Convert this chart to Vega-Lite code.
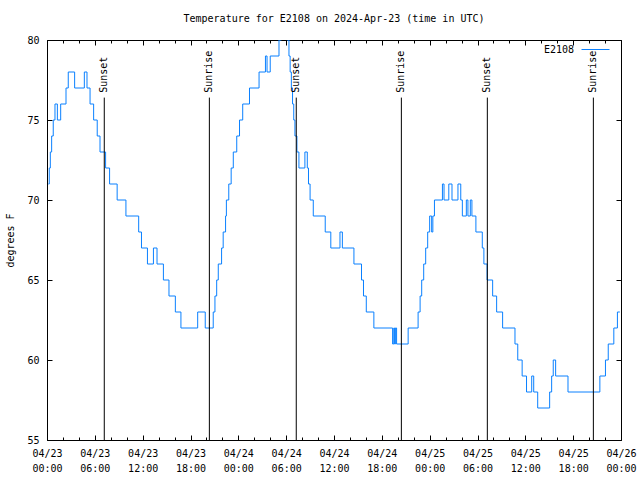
{
  "$schema": "https://vega.github.io/schema/vega-lite/v6.json",
  "width": 574,
  "height": 400,
  "autosize": "none",
  "padding": {"left": 47, "top": 40, "right": 19, "bottom": 40},
  "background": "white",
  "title": {"text": "Temperature for E2108 on 2024-Apr-23 (time in UTC)", "font": "DejaVu Sans Mono", "fontSize": 10, "fontWeight": "normal", "color": "black", "anchor": "middle", "offset": 11},
  "config": {
    "view": {"stroke": "black", "strokeWidth": 1},
    "font": "DejaVu Sans Mono",
    "axis": {"domain": false, "grid": false, "labelFont": "DejaVu Sans Mono", "labelFontSize": 10, "labelColor": "black", "tickColor": "black", "tickWidth": 1, "titleFont": "DejaVu Sans Mono", "titleFontSize": 10, "titleFontWeight": "normal", "titleColor": "black"}
  },
  "datasets": {
    "temps": [
      {"t": "2024-04-23T00:10:00Z", "v": 71, "s": "E2108"},
      {"t": "2024-04-23T00:17:00Z", "v": 72, "s": "E2108"},
      {"t": "2024-04-23T00:25:00Z", "v": 73, "s": "E2108"},
      {"t": "2024-04-23T00:35:00Z", "v": 74, "s": "E2108"},
      {"t": "2024-04-23T00:47:00Z", "v": 75, "s": "E2108"},
      {"t": "2024-04-23T01:00:00Z", "v": 76, "s": "E2108"},
      {"t": "2024-04-23T01:18:00Z", "v": 75, "s": "E2108"},
      {"t": "2024-04-23T01:43:00Z", "v": 76, "s": "E2108"},
      {"t": "2024-04-23T02:23:00Z", "v": 77, "s": "E2108"},
      {"t": "2024-04-23T02:40:00Z", "v": 78, "s": "E2108"},
      {"t": "2024-04-23T03:28:00Z", "v": 77, "s": "E2108"},
      {"t": "2024-04-23T04:41:00Z", "v": 78, "s": "E2108"},
      {"t": "2024-04-23T05:01:00Z", "v": 77, "s": "E2108"},
      {"t": "2024-04-23T05:24:00Z", "v": 76, "s": "E2108"},
      {"t": "2024-04-23T05:51:00Z", "v": 75, "s": "E2108"},
      {"t": "2024-04-23T06:18:00Z", "v": 74, "s": "E2108"},
      {"t": "2024-04-23T06:39:00Z", "v": 73, "s": "E2108"},
      {"t": "2024-04-23T07:21:00Z", "v": 72, "s": "E2108"},
      {"t": "2024-04-23T07:51:00Z", "v": 71, "s": "E2108"},
      {"t": "2024-04-23T08:48:00Z", "v": 70, "s": "E2108"},
      {"t": "2024-04-23T09:54:00Z", "v": 69, "s": "E2108"},
      {"t": "2024-04-23T11:30:00Z", "v": 68, "s": "E2108"},
      {"t": "2024-04-23T11:51:00Z", "v": 67, "s": "E2108"},
      {"t": "2024-04-23T12:36:00Z", "v": 66, "s": "E2108"},
      {"t": "2024-04-23T13:21:00Z", "v": 67, "s": "E2108"},
      {"t": "2024-04-23T13:48:00Z", "v": 66, "s": "E2108"},
      {"t": "2024-04-23T14:36:00Z", "v": 65, "s": "E2108"},
      {"t": "2024-04-23T15:18:00Z", "v": 64, "s": "E2108"},
      {"t": "2024-04-23T16:06:00Z", "v": 63, "s": "E2108"},
      {"t": "2024-04-23T16:48:00Z", "v": 62, "s": "E2108"},
      {"t": "2024-04-23T18:54:00Z", "v": 63, "s": "E2108"},
      {"t": "2024-04-23T19:51:00Z", "v": 62, "s": "E2108"},
      {"t": "2024-04-23T20:51:00Z", "v": 63, "s": "E2108"},
      {"t": "2024-04-23T21:04:00Z", "v": 64, "s": "E2108"},
      {"t": "2024-04-23T21:17:00Z", "v": 65, "s": "E2108"},
      {"t": "2024-04-23T21:29:00Z", "v": 66, "s": "E2108"},
      {"t": "2024-04-23T21:54:00Z", "v": 67, "s": "E2108"},
      {"t": "2024-04-23T22:06:00Z", "v": 68, "s": "E2108"},
      {"t": "2024-04-23T22:24:00Z", "v": 69, "s": "E2108"},
      {"t": "2024-04-23T22:30:00Z", "v": 70, "s": "E2108"},
      {"t": "2024-04-23T22:48:00Z", "v": 71, "s": "E2108"},
      {"t": "2024-04-23T23:06:00Z", "v": 72, "s": "E2108"},
      {"t": "2024-04-23T23:22:00Z", "v": 73, "s": "E2108"},
      {"t": "2024-04-23T23:48:00Z", "v": 74, "s": "E2108"},
      {"t": "2024-04-24T00:09:00Z", "v": 75, "s": "E2108"},
      {"t": "2024-04-24T00:33:00Z", "v": 76, "s": "E2108"},
      {"t": "2024-04-24T01:24:00Z", "v": 77, "s": "E2108"},
      {"t": "2024-04-24T02:36:00Z", "v": 78, "s": "E2108"},
      {"t": "2024-04-24T03:24:00Z", "v": 79, "s": "E2108"},
      {"t": "2024-04-24T03:36:00Z", "v": 78, "s": "E2108"},
      {"t": "2024-04-24T04:00:00Z", "v": 79, "s": "E2108"},
      {"t": "2024-04-24T05:06:00Z", "v": 80, "s": "E2108"},
      {"t": "2024-04-24T05:24:00Z", "v": 81, "s": "E2108"},
      {"t": "2024-04-24T06:06:00Z", "v": 80, "s": "E2108"},
      {"t": "2024-04-24T06:21:00Z", "v": 79, "s": "E2108"},
      {"t": "2024-04-24T06:30:00Z", "v": 78, "s": "E2108"},
      {"t": "2024-04-24T06:39:00Z", "v": 77, "s": "E2108"},
      {"t": "2024-04-24T06:48:00Z", "v": 76, "s": "E2108"},
      {"t": "2024-04-24T06:57:00Z", "v": 75, "s": "E2108"},
      {"t": "2024-04-24T07:06:00Z", "v": 74, "s": "E2108"},
      {"t": "2024-04-24T07:21:00Z", "v": 73, "s": "E2108"},
      {"t": "2024-04-24T07:36:00Z", "v": 72, "s": "E2108"},
      {"t": "2024-04-24T08:21:00Z", "v": 73, "s": "E2108"},
      {"t": "2024-04-24T08:39:00Z", "v": 72, "s": "E2108"},
      {"t": "2024-04-24T08:48:00Z", "v": 71, "s": "E2108"},
      {"t": "2024-04-24T09:00:00Z", "v": 70, "s": "E2108"},
      {"t": "2024-04-24T09:24:00Z", "v": 69, "s": "E2108"},
      {"t": "2024-04-24T10:54:00Z", "v": 68, "s": "E2108"},
      {"t": "2024-04-24T11:36:00Z", "v": 67, "s": "E2108"},
      {"t": "2024-04-24T12:45:00Z", "v": 68, "s": "E2108"},
      {"t": "2024-04-24T13:03:00Z", "v": 67, "s": "E2108"},
      {"t": "2024-04-24T14:30:00Z", "v": 66, "s": "E2108"},
      {"t": "2024-04-24T15:27:00Z", "v": 65, "s": "E2108"},
      {"t": "2024-04-24T15:42:00Z", "v": 64, "s": "E2108"},
      {"t": "2024-04-24T16:03:00Z", "v": 63, "s": "E2108"},
      {"t": "2024-04-24T17:00:00Z", "v": 62, "s": "E2108"},
      {"t": "2024-04-24T19:21:00Z", "v": 61, "s": "E2108"},
      {"t": "2024-04-24T19:30:00Z", "v": 62, "s": "E2108"},
      {"t": "2024-04-24T19:36:00Z", "v": 61, "s": "E2108"},
      {"t": "2024-04-24T19:42:00Z", "v": 62, "s": "E2108"},
      {"t": "2024-04-24T19:51:00Z", "v": 61, "s": "E2108"},
      {"t": "2024-04-24T21:18:00Z", "v": 62, "s": "E2108"},
      {"t": "2024-04-24T22:33:00Z", "v": 63, "s": "E2108"},
      {"t": "2024-04-24T22:48:00Z", "v": 64, "s": "E2108"},
      {"t": "2024-04-24T23:00:00Z", "v": 65, "s": "E2108"},
      {"t": "2024-04-24T23:15:00Z", "v": 66, "s": "E2108"},
      {"t": "2024-04-24T23:30:00Z", "v": 67, "s": "E2108"},
      {"t": "2024-04-24T23:45:00Z", "v": 68, "s": "E2108"},
      {"t": "2024-04-25T00:00:00Z", "v": 69, "s": "E2108"},
      {"t": "2024-04-25T00:15:00Z", "v": 68, "s": "E2108"},
      {"t": "2024-04-25T00:24:00Z", "v": 69, "s": "E2108"},
      {"t": "2024-04-25T00:36:00Z", "v": 70, "s": "E2108"},
      {"t": "2024-04-25T01:36:00Z", "v": 71, "s": "E2108"},
      {"t": "2024-04-25T01:48:00Z", "v": 70, "s": "E2108"},
      {"t": "2024-04-25T02:24:00Z", "v": 71, "s": "E2108"},
      {"t": "2024-04-25T02:48:00Z", "v": 70, "s": "E2108"},
      {"t": "2024-04-25T03:33:00Z", "v": 71, "s": "E2108"},
      {"t": "2024-04-25T03:54:00Z", "v": 70, "s": "E2108"},
      {"t": "2024-04-25T04:06:00Z", "v": 69, "s": "E2108"},
      {"t": "2024-04-25T04:36:00Z", "v": 70, "s": "E2108"},
      {"t": "2024-04-25T04:48:00Z", "v": 69, "s": "E2108"},
      {"t": "2024-04-25T05:06:00Z", "v": 70, "s": "E2108"},
      {"t": "2024-04-25T05:18:00Z", "v": 69, "s": "E2108"},
      {"t": "2024-04-25T05:48:00Z", "v": 68, "s": "E2108"},
      {"t": "2024-04-25T06:36:00Z", "v": 67, "s": "E2108"},
      {"t": "2024-04-25T06:48:00Z", "v": 66, "s": "E2108"},
      {"t": "2024-04-25T07:12:00Z", "v": 65, "s": "E2108"},
      {"t": "2024-04-25T07:54:00Z", "v": 64, "s": "E2108"},
      {"t": "2024-04-25T08:24:00Z", "v": 63, "s": "E2108"},
      {"t": "2024-04-25T09:09:00Z", "v": 62, "s": "E2108"},
      {"t": "2024-04-25T10:42:00Z", "v": 61, "s": "E2108"},
      {"t": "2024-04-25T11:03:00Z", "v": 60, "s": "E2108"},
      {"t": "2024-04-25T11:36:00Z", "v": 59, "s": "E2108"},
      {"t": "2024-04-25T12:09:00Z", "v": 58, "s": "E2108"},
      {"t": "2024-04-25T12:48:00Z", "v": 59, "s": "E2108"},
      {"t": "2024-04-25T13:03:00Z", "v": 58, "s": "E2108"},
      {"t": "2024-04-25T13:33:00Z", "v": 57, "s": "E2108"},
      {"t": "2024-04-25T15:03:00Z", "v": 58, "s": "E2108"},
      {"t": "2024-04-25T15:18:00Z", "v": 59, "s": "E2108"},
      {"t": "2024-04-25T15:30:00Z", "v": 60, "s": "E2108"},
      {"t": "2024-04-25T15:48:00Z", "v": 59, "s": "E2108"},
      {"t": "2024-04-25T17:21:00Z", "v": 58, "s": "E2108"},
      {"t": "2024-04-25T21:21:00Z", "v": 59, "s": "E2108"},
      {"t": "2024-04-25T22:03:00Z", "v": 60, "s": "E2108"},
      {"t": "2024-04-25T22:24:00Z", "v": 61, "s": "E2108"},
      {"t": "2024-04-25T23:06:00Z", "v": 62, "s": "E2108"},
      {"t": "2024-04-25T23:33:00Z", "v": 63, "s": "E2108"},
      {"t": "2024-04-25T23:51:00Z", "v": 63, "s": "E2108"}
    ],
    "events": [
      {"t": "2024-04-23T07:11:00Z", "e": "Sunset"},
      {"t": "2024-04-23T20:22:00Z", "e": "Sunrise"},
      {"t": "2024-04-24T07:16:00Z", "e": "Sunset"},
      {"t": "2024-04-24T20:27:00Z", "e": "Sunrise"},
      {"t": "2024-04-25T07:14:00Z", "e": "Sunset"},
      {"t": "2024-04-25T20:32:00Z", "e": "Sunrise"}
    ]
  },
  "resolve": {"axis": {"x": "independent", "y": "independent"}},
  "layer": [
    {
      "data": {"name": "temps"},
      "mark": {"type": "line", "interpolate": "step-after", "strokeWidth": 1, "clip": true},
      "encoding": {
        "x": {
          "field": "t", "type": "temporal",
          "scale": {"type": "utc", "domain": [1713830400000, 1714089600000]},
          "axis": {"orient": "bottom", "values": [1713830400000, 1713852000000, 1713873600000, 1713895200000, 1713916800000, 1713938400000, 1713960000000, 1713981600000, 1714003200000, 1714024800000, 1714046400000, 1714068000000, 1714089600000], "tickSize": -5, "labelPadding": 13, "labelExpr": "[utcFormat(datum.value, '%m/%d'), utcFormat(datum.value, '%H:%M')]", "labelLineHeight": 15, "labelBaseline": "top", "labelFlush": false, "labelOverlap": false, "title": null}
        },
        "y": {
          "field": "v", "type": "quantitative",
          "scale": {"domain": [55, 80], "nice": false, "zero": false},
          "axis": {"orient": "left", "values": [55, 60, 65, 70, 75, 80], "tickSize": -5, "labelPadding": 13, "title": "degrees F", "titlePadding": 11}
        },
        "color": {
          "field": "s", "type": "nominal",
          "scale": {"range": ["#0a80ff"]},
          "legend": {"orient": "none", "legendX": 534, "legendY": -5, "title": null, "symbolType": "stroke", "symbolSize": 784, "symbolStrokeWidth": 1, "labelAlign": "right", "labelOffset": -36, "labelFont": "DejaVu Sans Mono", "labelFontSize": 10, "labelColor": "black", "padding": 0}
        }
      }
    },
    {
      "data": {"name": "events"},
      "mark": {"type": "rule", "color": "black", "strokeWidth": 1},
      "encoding": {
        "x": {"field": "t", "type": "temporal", "axis": {"orient": "top", "values": [1713830400000, 1713852000000, 1713873600000, 1713895200000, 1713916800000, 1713938400000, 1713960000000, 1713981600000, 1714003200000, 1714024800000, 1714046400000, 1714068000000, 1714089600000], "tickSize": -5, "labels": false, "title": null}},
        "y": {"datum": 76.4, "axis": {"orient": "right", "values": [55, 60, 65, 70, 75, 80], "tickSize": -5, "labels": false, "title": null}},
        "y2": {"datum": 55}
      }
    },
    {
      "data": {"name": "events"},
      "transform": [{"filter": "datum.e == 'Sunset'"}],
      "mark": {"type": "text", "angle": 270, "align": "left", "baseline": "middle", "font": "DejaVu Sans Mono", "fontSize": 10, "color": "black"},
      "encoding": {
        "x": {"field": "t", "type": "temporal", "axis": {"orient": "bottom", "values": [1713830400000, 1713837600000, 1713844800000, 1713852000000, 1713859200000, 1713866400000, 1713873600000, 1713880800000, 1713888000000, 1713895200000, 1713902400000, 1713909600000, 1713916800000, 1713924000000, 1713931200000, 1713938400000, 1713945600000, 1713952800000, 1713960000000, 1713967200000, 1713974400000, 1713981600000, 1713988800000, 1713996000000, 1714003200000, 1714010400000, 1714017600000, 1714024800000, 1714032000000, 1714039200000, 1714046400000, 1714053600000, 1714060800000, 1714068000000, 1714075200000, 1714082400000, 1714089600000], "tickSize": -3, "labels": false, "title": null}},
        "y": {"datum": 76.7, "axis": null},
        "text": {"field": "e"}
      }
    },
    {
      "data": {"name": "events"},
      "transform": [{"filter": "datum.e == 'Sunrise'"}],
      "mark": {"type": "text", "angle": 270, "align": "left", "baseline": "middle", "font": "DejaVu Sans Mono", "fontSize": 10, "color": "black"},
      "encoding": {
        "x": {"field": "t", "type": "temporal", "axis": {"orient": "top", "values": [1713830400000, 1713837600000, 1713844800000, 1713852000000, 1713859200000, 1713866400000, 1713873600000, 1713880800000, 1713888000000, 1713895200000, 1713902400000, 1713909600000, 1713916800000, 1713924000000, 1713931200000, 1713938400000, 1713945600000, 1713952800000, 1713960000000, 1713967200000, 1713974400000, 1713981600000, 1713988800000, 1713996000000, 1714003200000, 1714010400000, 1714017600000, 1714024800000, 1714032000000, 1714039200000, 1714046400000, 1714053600000, 1714060800000, 1714068000000, 1714075200000, 1714082400000, 1714089600000], "tickSize": -3, "labels": false, "title": null}},
        "y": {"datum": 76.7, "axis": null},
        "text": {"field": "e"}
      }
    }
  ]
}
